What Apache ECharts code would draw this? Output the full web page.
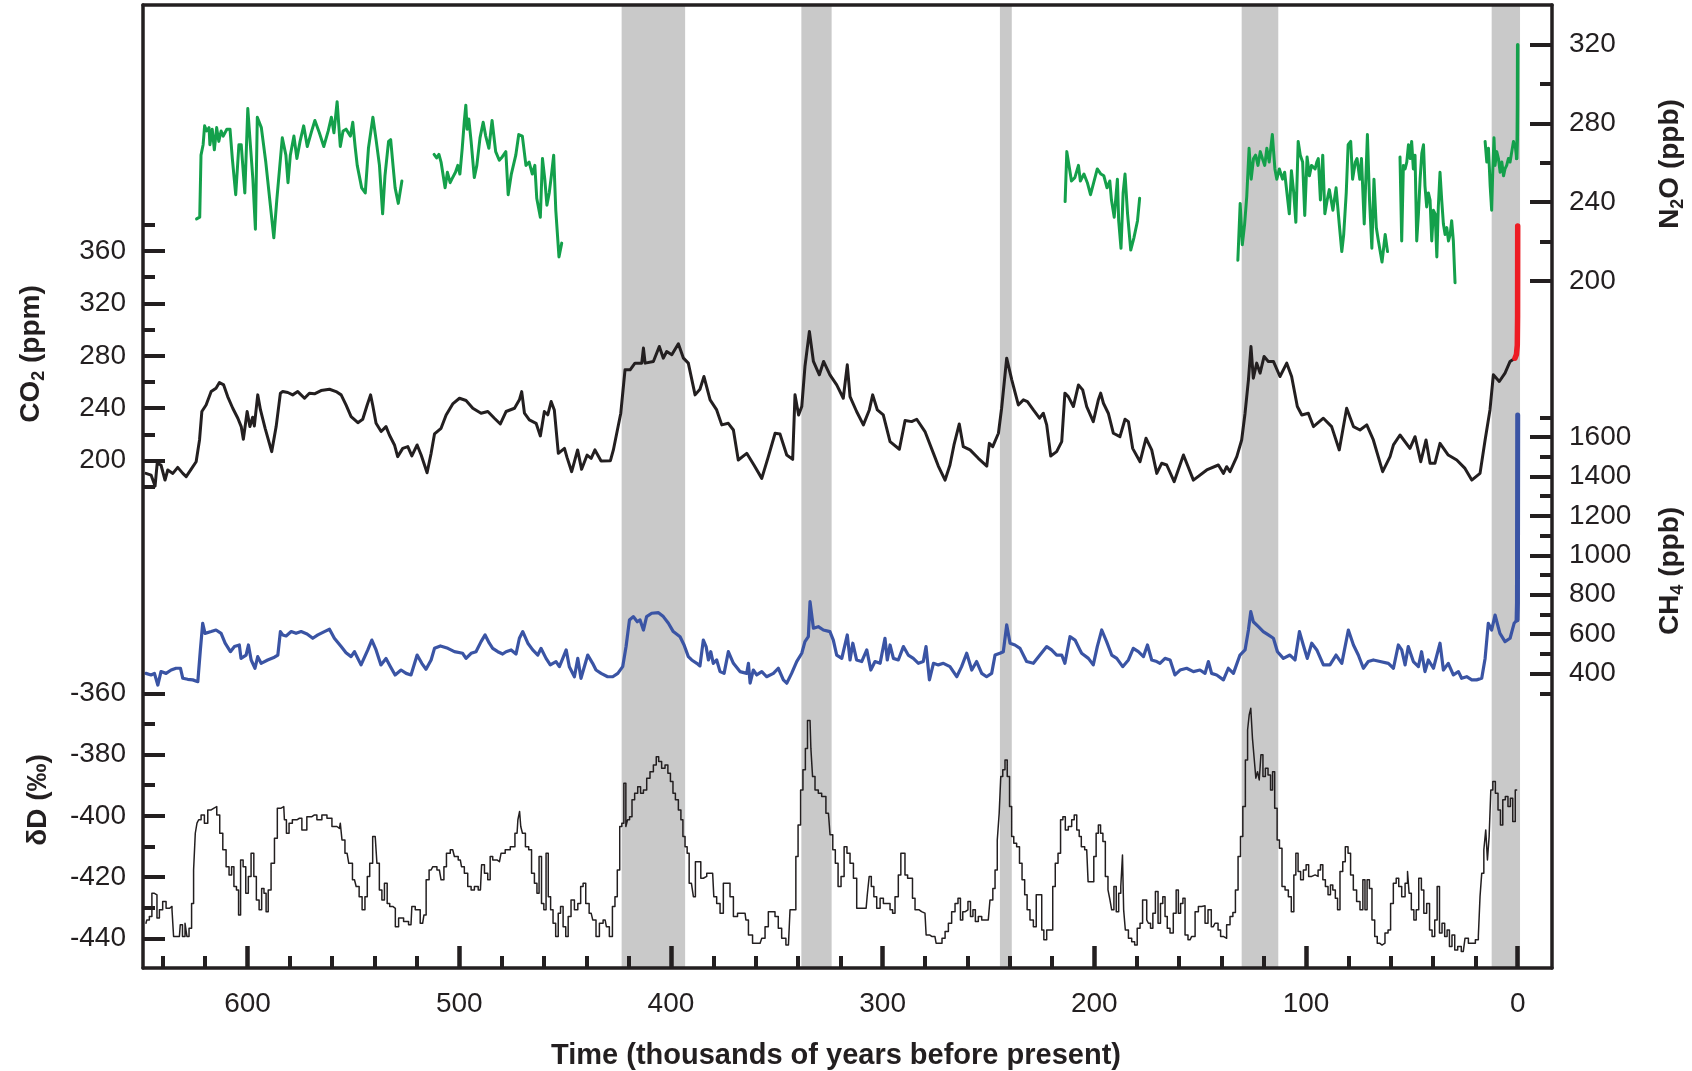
<!DOCTYPE html>
<html><head><meta charset="utf-8">
<script src="https://cdn.jsdelivr.net/npm/echarts@6/dist/echarts.min.js"></script>
<style>html,body{margin:0;padding:0;background:#fff}#c{width:1692px;height:1071px}</style>
</head><body><div id="c"></div>
<script>
// ---- time axis (thousands of years before present) ----
const timeMajorTicks = [0,100,200,300,400,500,600];
const timeMinorTicks = [20,40,60,80,120,140,160,180,220,240,260,280,320,340,360,380,420,440,460,480,520,540,560,580,620,640];
// ---- interglacial bands [start, end] ----
const bands = [[423.3,393.3],[338.4,324.1],[244.6,239],[130.4,113.1],[12.3,-1.1]];
// ---- axis ticks ----
const co2MajorTicks = [200,240,280,320,360];
const co2MinorTicks = [180,220,260,300,340,380];
const dDMajorTicks = [-440,-420,-400,-380,-360];
const dDMinorTicks = [-430,-410,-390,-370];
const n2oMajorTicks = [200,240,280,320];
const n2oMinorTicks = [220,260,300];
const ch4MajorTicks = [400,600,800,1000,1200,1400,1600];
const ch4MinorTicks = [300,500,700,900,1100,1300,1500,1700];

// ---- CO2 (ppm) ----
const co2 = [[648,190.3],[645.6,189],[643.7,180.6],[642.7,198],[640.9,196.7],[639,185.2],[637.7,192.9],[635.3,190.3],[633,194.9],[630.6,190.3],[629,187.8],[626.7,193.4],[624.3,199.2],[622.7,215.8],[621.6,237.5],[619.6,242.5],[617.2,252.7],[614.9,255.3],[613.3,259.6],[611.3,257.8],[609.4,248.9],[607,240],[604.6,232.4],[603,226],[602,216.3],[600.2,237.5],[598.9,226],[597.6,233.1],[596.8,226.5],[595.2,250.2],[593.9,238.7],[591.7,224.7],[588.6,206.9],[586.5,226],[584.5,251.5],[583.4,252.7],[581,252],[578.7,250.2],[576.3,252.7],[573.1,247.6],[570.8,251.5],[568.4,251],[565.3,253.5],[561.3,254.5],[558.2,252.7],[555.8,250.2],[553.5,242.5],[551.1,233.6],[547.9,229],[545.6,231.6],[543.5,242.5],[541.9,250.2],[540.9,242.5],[539.3,228.5],[536.9,222.2],[534.6,226],[533,219.6],[530.6,212],[529.1,203.1],[526.7,209.4],[524.3,210.7],[522.4,203.6],[519.9,212],[518,204.3],[515.2,190.8],[513.3,205.6],[511.7,220.4],[508.6,224.7],[506.2,234.9],[503.1,243.3],[499.9,247.6],[496.8,245.9],[493.6,240],[489.7,236.2],[486.5,237.5],[483.4,232.4],[480.6,228],[477.9,237.5],[473.9,240],[471.6,246.4],[470.5,252.7],[469.2,236.2],[466.9,231.1],[463.7,228.5],[461.7,218.9],[459.8,237.5],[458.2,235],[456.6,245.1],[455.1,238.7],[453.2,205.6],[450.3,209.4],[449.1,202.5],[446.9,191.6],[445.6,199.2],[444.1,208.2],[442.2,193.4],[439.6,204.3],[437.7,201.8],[435.9,208.2],[433,199.7],[428.6,200],[427.2,208.2],[425.3,223.4],[423.7,236.2],[421.7,269.3],[419.3,269.3],[417,274.4],[413.8,274.4],[413,285.9],[412.2,274.4],[408.3,275.7],[405.5,287.1],[403.6,278.2],[402,283.3],[399.6,280.8],[396.5,289.2],[394.1,278.2],[391.8,274.4],[388.6,250.2],[386.3,254.5],[384.4,264.2],[381.5,246.4],[378.4,238.7],[376,227.3],[372.9,228.5],[370.5,223.4],[368.2,200.5],[364.2,205.6],[360.8,196.7],[357.1,186.5],[354,203.1],[350.8,220.9],[348.5,220.4],[345.3,204.3],[342.5,201],[341.4,250.2],[339.7,234.9],[338.2,241.3],[336.7,271.8],[334.6,298.6],[332.7,275.7],[329.9,265.5],[327.9,275.7],[324.9,265.5],[321.7,257.8],[318.6,247.6],[316.7,273.1],[315.4,248.9],[312.3,237.5],[309.1,227.3],[306.3,238.7],[304.7,250.2],[302.5,238.7],[299.7,234.9],[296.5,214.5],[292.1,208.7],[289.4,230.6],[286.3,229.8],[283.9,231.6],[280,222.2],[276,205.6],[273.7,195.9],[270.5,185.2],[268.2,196.7],[266.3,212],[263.8,228],[261.9,210.7],[258.7,208.2],[254.8,201.8],[250.8,195.9],[249.6,213.2],[248,210.7],[245.3,220.9],[243.8,240],[241.4,278.2],[239,261.7],[235.9,242.5],[233.5,246.4],[231.6,245.1],[228.8,238.7],[225.9,232.4],[224.1,236.2],[222.5,227.3],[220.6,203.6],[217.8,206.9],[215.4,214.5],[213.9,251.5],[212.3,248.9],[209.9,241.3],[207.5,257.8],[205.5,254],[203.6,241.3],[200.5,229.8],[198.1,246.4],[197,251.5],[195.7,243.8],[193.4,236.2],[191,220.9],[187.9,218.3],[185.5,231.6],[183.9,229.8],[181.9,209.4],[178.4,199.2],[175.6,217.1],[172.9,208.2],[170.5,190.3],[168.2,198],[165.8,196.7],[162.3,184],[157.9,204.3],[153.2,185.2],[146.9,192.9],[141.4,196.7],[139,190.3],[137.5,195.4],[135.9,191.6],[132.7,203.1],[130.4,215.8],[128.8,236.2],[127.2,261.7],[126,287.1],[124.9,262.9],[123.3,274.4],[121.7,266.8],[119.8,279.5],[117.8,275.7],[115.4,275.7],[112.3,264.2],[109.1,274.4],[106.8,264.2],[104.1,241.3],[102,234.9],[98.9,236.2],[96.5,226],[91.8,232.4],[87.9,226],[84.3,208.2],[80.8,240],[77.6,226],[74.5,223.4],[71.3,227.3],[68.2,215.8],[63.8,191.6],[60.3,203.1],[58.7,212],[55.6,219.6],[50.9,209.4],[48.5,218.3],[45.8,199.2],[43.3,215.8],[41.4,198],[39.1,198],[36.7,213.2],[32.8,204.3],[28.8,200.5],[24.9,194.1],[21.7,185.2],[17.8,190.3],[15.4,215.8],[13.1,238.7],[11.5,265.5],[8.7,260.4],[6,266.8],[3.6,275.7],[1.3,278.2]];
const co2Modern = [[1.3,278.2],[0.6,281],[0.2,288],[0.06,310],[0,379]];

// ---- CH4 (ppb) ----
const ch4 = [[648,401],[645.6,393],[644,401],[642.4,342],[640.9,410],[638.5,401],[636.1,418],[633.8,427],[631.7,427],[630.6,376],[628.3,371],[625.9,368],[623.5,359],[622.3,520],[621.2,655],[620.1,604],[617.2,613],[614.9,621],[612.5,604],[610.6,554],[608.1,511],[606.2,537],[603.9,545],[603.1,477],[600.7,494],[599.6,545],[598.3,469],[596.5,427],[595.2,486],[593.6,452],[590.5,469],[587.3,483],[585.7,494],[584.5,613],[583.4,596],[581.8,591],[579.4,613],[577.1,604],[574.7,613],[571.9,601],[569.2,579],[566.8,596],[563.7,613],[561.3,625],[559,579],[555.8,537],[553.5,506],[551.1,486],[549.5,511],[546.4,444],[543.2,520],[541.3,570],[539.3,520],[537,444],[534.6,477],[532.5,435],[530.3,393],[527.5,418],[525.1,401],[522.8,393],[519.9,494],[517.7,452],[515.7,422],[513.3,469],[511.7,528],[508.9,540],[505.4,528],[502.3,511],[498.4,503],[496.8,477],[494.4,503],[492.1,511],[489.7,562],[487.8,596],[485.8,554],[484.2,528],[481.8,511],[479.5,499],[477.9,511],[475.5,520],[473.2,499],[471.6,579],[470,613],[467.6,554],[465.3,520],[462.9,494],[461.4,528],[459,477],[457,444],[454.3,461],[452.7,435],[451.1,477],[449.5,520],[448,435],[445.6,384],[444,477],[442.5,376],[439.3,494],[437,452],[435.4,418],[433,401],[429.9,384],[427.5,384],[425.1,401],[424.4,393],[422.8,435],[421.2,537],[419.6,672],[417.8,689],[415.9,663],[414.6,672],[413,621],[411.5,689],[409.1,706],[405.9,709],[403.6,689],[401.2,655],[398.9,613],[395.7,587],[393.8,545],[391.8,486],[390.2,469],[387.8,452],[386.3,439],[384.7,570],[383.4,537],[382.3,469],[381.2,511],[380,452],[378.4,469],[376.8,410],[374.9,401],[372.9,511],[370.5,452],[367.4,410],[364.2,401],[363.4,452],[362.6,351],[361.1,418],[359.5,393],[357.1,410],[354.8,384],[351.6,401],[349.3,427],[346.9,368],[345.3,351],[343,401],[340.6,461],[338.2,503],[336.7,562],[335.1,587],[334.3,765],[332.7,630],[330.4,638],[328,621],[324.9,613],[323.3,570],[321.7,494],[319.3,477],[316.7,596],[315.4,469],[314.1,554],[312.3,469],[309.9,461],[307.5,520],[305.6,418],[303.6,461],[301.2,452],[298.9,579],[297.8,469],[296.5,545],[294.9,477],[292.6,469],[290.2,537],[287.9,494],[285.5,477],[283.1,452],[280.8,461],[279.5,537],[277.9,368],[276,452],[273.7,444],[271.3,452],[268.2,435],[265,384],[262.7,435],[260.3,503],[257.9,418],[255.6,461],[253.2,401],[250.9,384],[248.5,401],[246.9,494],[244.6,503],[243,511],[241.4,647],[239.8,554],[237.5,545],[235.1,528],[232,461],[228.8,452],[225.7,494],[222.5,537],[220.2,520],[217.8,494],[215.4,494],[213.9,452],[211.5,587],[209.1,570],[206.8,520],[206,503],[202.8,477],[200.5,444],[198.6,537],[196.5,621],[194.2,562],[191.8,494],[189.4,477],[186.6,435],[183.9,469],[181.6,528],[179.2,511],[176.8,486],[174.9,545],[172.9,469],[170.5,461],[169,452],[166.6,477],[164.2,469],[161.9,393],[159.5,418],[156.4,427],[153.2,410],[150.1,418],[147.7,401],[146.1,461],[144.6,401],[142.2,393],[139,368],[136.7,427],[134.3,401],[131.2,494],[128.8,520],[127.2,621],[126.1,714],[124.9,663],[122.5,638],[120.2,613],[117.8,596],[115.4,579],[113.5,511],[110.7,477],[107.6,494],[105.2,469],[103.1,613],[101.3,545],[99.4,477],[97.3,554],[94.9,520],[91.8,444],[88.7,444],[85.8,494],[83.1,452],[80,621],[77.6,545],[75.3,494],[72.9,427],[70.6,461],[68.2,469],[65,461],[61.1,452],[58.7,427],[56.4,545],[54.8,520],[53.2,444],[51.7,537],[49.3,461],[46.9,435],[45.4,511],[43.8,410],[42.2,469],[39.8,427],[36.7,554],[35.1,418],[32.8,452],[30.4,393],[28,410],[26.5,376],[24.1,384],[21.7,368],[19.4,368],[17,376],[15.4,477],[13.9,655],[12.3,621],[10.7,697],[8.4,604],[6,562],[3.6,579],[1.7,655],[0.3,672]];
const ch4Modern = [[0.3,672],[0.12,760],[0,1712]];

// ---- N2O (ppb), null = gap between record segments ----
const n2o = [[624.1,231.5],[622.6,232.4],[622,263.9],[621,269.2],[620.3,278.8],[619.3,276.2],[618.2,277.9],[617.8,269.2],[616.7,277.1],[615.7,266.6],[614.6,277.9],[613.6,270.9],[612.5,276.2],[611.5,273.6],[609.8,277.1],[608.3,277.1],[607.2,262.2],[605.6,243.8],[604.1,269.2],[603,269.2],[601.3,244.7],[599.9,287.6],[598.8,270.9],[597.5,251.7],[596.3,226.3],[595.4,283.2],[593.5,277.9],[591.4,260.4],[587.6,221.9],[586.2,241.1],[583.6,272.7],[581.9,263.9],[580.9,249.9],[579.8,263.9],[578.1,273.6],[576.7,262.2],[575.2,270.9],[573.5,278.8],[571.8,268.3],[569.7,276.2],[568.2,281.5],[566.1,275.3],[564,268.3],[561.9,276.2],[560.4,283.2],[559.2,275.3],[557.7,291.1],[556.2,268.3],[554.9,276.2],[553.5,277.1],[551.4,273.6],[550.3,280.6],[549.2,268.3],[548.2,258.7],[546.1,247.3],[544.4,244.7],[542.9,267.4],[540.8,283.2],[539.3,271.8],[537.7,258.7],[536.2,234.1],[535.1,253.4],[533.4,270.9],[532.4,271.8],[531.3,258.7],[530.3,247.3],[528.8,239.4],[527.1,250.8],
[520,null],
[511.9,264.3],[510.7,262.5],[509.6,264.3],[508.6,260.4],[507.7,261.3],[506.7,247.3],[505.6,255.2],[504.3,249.9],[503.5,251.7],[501.8,255.2],[500.7,258.7],[499.7,254.3],[498.6,267.4],[497.6,281.5],[496.9,289.3],[496.3,277.1],[495.5,282.3],[494.4,270.9],[492.9,252.5],[491.7,258.7],[490.2,272.7],[488.7,280.6],[487.5,273.6],[486,267.4],[484.5,281.5],[482.8,265.7],[481.1,261.3],[479.7,263],[478,265.7],[476.9,243.8],[475.4,254.3],[473.3,263.9],[471.9,274.4],[470.2,273.6],[468.5,258.7],[467,260.4],[465.5,254.3],[464.3,258.7],[463.4,242],[461.7,232.4],[460.7,262.2],[459.6,251.7],[458.6,238.5],[457.5,244.7],[456.5,253.4],[455.4,263.9],[454.4,235.9],[452.9,212.2],[451.6,219.2],
[300,null],
[213.8,240.3],[213,265.7],[211.7,256.9],[210.8,250.8],[209.2,252.5],[207.5,258.7],[206.6,250.8],[204.9,254.3],[203.3,249.9],[201.8,243.8],[200.3,249.9],[198.6,256.9],[196.9,254.3],[195.5,253.4],[194,247.3],[192.7,250.8],[191.9,241.1],[190.6,232.4],[189.1,251.7],[188.5,230.6],[187.4,216.6],[186.4,244.7],[185.5,254.3],[184.3,234.1],[182.8,215.7],[181.3,221.9],[179.6,230.6],[178.6,242],
[150,null],
[132.2,210.5],[131.1,239.4],[130.1,218.4],[129,228.9],[128,242.9],[126.9,267.4],[125.9,251.7],[124.8,262.2],[123.8,263.9],[122.7,258.7],[121.6,265.7],[120.6,262.2],[119.5,258.7],[118.5,267.4],[117.4,260.4],[115.9,274.4],[114.7,256.9],[113.8,251.7],[112.6,256.9],[111.1,251.7],[110.1,255.2],[107.9,234.1],[106.9,256],[105.8,244.7],[104.8,229.8],[103.7,270.9],[102.7,263.9],[101.6,260.4],[100.6,233.3],[99.5,263],[98.4,253.4],[97.4,258.7],[95.7,256.9],[94.9,260.4],[94.2,262.2],[93.2,241.1],[92.1,263.9],[91.1,234.1],[90,241.1],[89,246.4],[87.3,235.9],[85.8,247.3],[84.3,228.9],[83.1,214.9],[82.2,223.6],[81,244.7],[80.1,269.2],[78.9,270.9],[78,251.7],[76.7,260.4],[75.9,262.2],[74.6,251.7],[73.8,262.2],[72.5,228.9],[71,274.4],[70,241.1],[68.9,216.6],[67.9,251.7],[66.8,227.1],[65.8,220.3],[64.1,209.6],[62.6,223.6],[61.5,214.9],
[58,null],
[55.6,263],[54.8,220.3],[54,258.7],[53.2,256.9],[52.4,260.4],[51.6,269.2],[50.8,262.2],[50.1,270.9],[49.3,256.9],[48.5,263.9],[47.7,220.3],[46.9,234.1],[46.1,251.7],[45.3,264.8],[44.5,269.2],[43.8,248.2],[43,237.6],[42.2,244.7],[41.4,241.1],[40.6,220.3],[39.8,235.9],[39,234.1],[38.2,212.2],[37.5,237.6],[36.7,255.2],[35.9,241.1],[35.1,228.9],[34.3,223.6],[33.5,227.1],[32.7,220.3],[31.9,223.6],[31.2,230.6],[30.4,220.3],[29.6,199.1],
[22,null],
[15.4,270.9],[14.6,260.4],[13.8,267.4],[13,248.2],[12.3,235.9],[11.8,255.2],[11.2,272.7],[10.7,258.7],[9.9,265.7],[9.1,262.2],[8.3,255.2],[7.5,260.4],[6.7,253.4],[6,256.9],[5.2,258.7],[4.4,262.2],[3.6,260.4],[2.8,265.7],[2,270.9],[1.2,269.2],[0.5,262.2]];
const n2oModern = [[0.5,262.2],[0.2,272.7],[0.08,290],[0,320]];

// ---- deuterium deltaD (per mil) ----
const dD = [[648,-435.1],[647.2,-434],[645.6,-432.9],[644.8,-425.3],[643.2,-425.8],[642.4,-433.4],[640.9,-430.7],[639.3,-428],[637.7,-430.2],[636.1,-429.6],[635.3,-430.7],[634.6,-439.4],[632.2,-439.4],[631.4,-435.6],[630.1,-439.4],[629,-435.1],[628.3,-439.4],[627,-436.7],[625.9,-428.6],[625.1,-417.7],[624.3,-405.7],[623.5,-402.4],[622.7,-401.3],[621.2,-399.7],[619.6,-402.4],[618,-398.1],[616.4,-397.5],[615.3,-397],[613.8,-399.7],[612.5,-405.7],[610.9,-411.1],[609.4,-416.6],[608.1,-419.3],[607,-416.6],[605.9,-423.1],[604.6,-424.2],[603.9,-432.4],[602.7,-414.4],[601.5,-416.6],[600.2,-425.3],[599.1,-419.8],[597.6,-412.2],[596.5,-419.8],[595.2,-427.5],[593.9,-430.7],[592.8,-423.7],[591.7,-425.3],[590.8,-431.3],[589.7,-424.2],[588.1,-415.5],[586.5,-407.3],[585.4,-397.5],[582.9,-397],[582.3,-401.3],[581,-405.7],[579.8,-402.4],[577.9,-401.3],[575.5,-400.8],[573.2,-404.6],[570.8,-400.3],[568.4,-399.7],[566.1,-401.3],[563.7,-399.7],[561.3,-400.8],[559,-403.5],[556.6,-404.1],[555.8,-402.4],[555,-407.9],[553,-412.2],[551.4,-415.5],[549.5,-420.9],[547.9,-423.1],[546.7,-426.4],[545.1,-430.7],[544,-426.4],[542.9,-419.8],[541.7,-415.5],[540.1,-406.8],[539.3,-407.3],[538.5,-415.5],[537,-424.2],[536.1,-427.5],[534.6,-422],[533.5,-428.6],[532.2,-429.6],[530.6,-430.2],[529.8,-436.2],[527.5,-433.4],[525.1,-434.5],[522.8,-435.6],[522,-429.6],[519.6,-430.7],[517.3,-435.1],[516.1,-432.4],[515.2,-420.9],[513.3,-417.7],[511.7,-416.6],[509.4,-417.7],[507.8,-420.9],[506.7,-416.6],[505.4,-412.2],[503.1,-411.1],[501.5,-413.3],[499.5,-414.4],[498.4,-416.6],[496.8,-418.8],[495.2,-423.1],[493.6,-424.2],[492.1,-423.1],[490,-424.2],[488.9,-416],[487.3,-418.8],[485.8,-420.9],[485,-413.3],[483.4,-414.4],[481,-415],[479.5,-412.2],[477.1,-411.1],[474.7,-410.1],[472.7,-405.7],[471.9,-401.3],[471.1,-398.6],[470.8,-403.5],[469.5,-405.7],[468,-410.1],[466.4,-411.1],[465.3,-418.8],[463.7,-422],[462.9,-425.3],[461.7,-413.3],[460.6,-428.6],[459.5,-430.7],[458.5,-412.2],[457.4,-426.4],[456.3,-430.7],[455.1,-435.1],[453.8,-439.4],[452.7,-431.8],[451.6,-429.6],[450.3,-436.2],[449.1,-439.4],[448,-432.9],[446.4,-427.5],[444.8,-430.7],[443.2,-428.6],[442.1,-423.1],[440.9,-422],[439.6,-428.6],[437.7,-431.8],[436.2,-434],[434.6,-439.4],[433,-435.1],[431.1,-434],[429.9,-436.2],[428.3,-439.4],[427,-429.6],[425.9,-426.4],[424.8,-417.7],[423.6,-403.5],[422.8,-402.4],[421.7,-389.4],[420.9,-403.5],[420.1,-401.3],[419,-400.3],[417.8,-394.8],[416.5,-392.6],[414.9,-390.5],[413.8,-392.6],[412.2,-391.6],[410.7,-387.7],[409.1,-385.6],[407.5,-383.4],[406.4,-380.7],[405.2,-382.3],[403.6,-384.5],[402,-383.4],[400.9,-386.1],[399.6,-388.8],[398.5,-392.6],[397.3,-394.8],[395.7,-398.1],[394.9,-401.3],[393.8,-406.8],[392.9,-410.1],[391.8,-412.2],[391,-422],[389.7,-422],[389.1,-426.4],[387.8,-415],[386.3,-415],[385.5,-420.4],[383.9,-419.8],[382.3,-418.8],[380.3,-418.8],[379.2,-426.4],[377.6,-428.6],[376,-431.8],[374.5,-422],[372.9,-422],[371.3,-426.4],[369.7,-432.9],[367.4,-431.8],[365,-431.8],[364.2,-434],[362.6,-438.9],[360.3,-441.6],[357.9,-441.6],[356.3,-440],[354.8,-436.2],[353.2,-431.3],[351.6,-431.3],[350.1,-432.9],[348.5,-436.7],[346.9,-440],[344.5,-442.2],[343,-430.7],[341.4,-430.7],[340.6,-413.3],[339.3,-403],[338.2,-391.6],[337.1,-385],[335.9,-378],[335.1,-368.9],[334.3,-368.9],[333.5,-378],[332.7,-387.2],[331.2,-391.6],[329.6,-392.6],[328,-393.7],[325.6,-399.2],[324.1,-406.2],[323,-411.1],[321.7,-415.5],[320.4,-423.1],[318.9,-419.8],[317.5,-410.1],[316.2,-412.2],[314.6,-415.5],[313,-420.4],[311.5,-430.2],[309.9,-430.2],[307.8,-430.2],[306.7,-425.8],[306,-419.8],[304.7,-423.1],[303.6,-426.4],[302,-430.2],[300.4,-426.9],[298.9,-428.6],[297.3,-428.6],[295.7,-430.7],[294.9,-431.8],[293.4,-426.4],[291.8,-419.3],[291,-412.2],[289.9,-412.2],[289,-419.3],[287.4,-420.4],[286.3,-420.4],[285.5,-426.9],[283.9,-430.7],[281.6,-431.3],[280,-431.8],[278.9,-438.9],[276.8,-439.4],[275.3,-439.4],[274.2,-441.6],[272.6,-441.6],[271.3,-440],[269.7,-437.8],[268.2,-435.1],[266.6,-431.3],[265,-428.6],[263.8,-426.9],[262.7,-434],[261.6,-431.3],[260.3,-430.7],[259.1,-428],[257.9,-432.9],[256.8,-430.7],[255.6,-434.5],[254,-432.9],[252.4,-434],[250.1,-434],[248.5,-427.5],[247.4,-423.7],[246.4,-417.7],[245.3,-407.9],[244.6,-399.2],[243.8,-387.2],[242.7,-385],[241.7,-381.8],[240.6,-387.2],[239.5,-397],[238.6,-406.8],[237.5,-409],[235.9,-410.1],[234.8,-415.5],[233.5,-420.9],[232.3,-425.8],[231.2,-430.7],[229.6,-434],[228,-436.2],[226.9,-425.8],[225.3,-425.8],[224.4,-437.3],[223.3,-440.5],[221.7,-437.3],[220.2,-437.3],[219.1,-423.1],[217.8,-415.5],[216.5,-412.2],[215.4,-401.3],[214.3,-400.3],[213.1,-404.6],[211.5,-403.5],[209.9,-401.3],[209.1,-399.7],[207.5,-404.6],[206.8,-406.8],[205.5,-410.1],[203.6,-411.1],[202.3,-421.5],[200.8,-421.5],[199.7,-413.3],[198.6,-405.7],[197.6,-403],[196.5,-405.7],[195.4,-408.4],[194.2,-419.8],[192.9,-424.2],[192.3,-427.5],[191.3,-430.7],[190.2,-423.1],[189.1,-431.3],[187.9,-425.3],[187.1,-423.1],[186.3,-412.8],[186,-430.7],[184.7,-437.3],[183.1,-440],[181.6,-441.1],[180.3,-442.2],[179.2,-436.7],[177.6,-435.1],[176.8,-427.5],[175.6,-427.5],[174.9,-434],[174,-435.1],[172.9,-436.7],[171.8,-431.8],[170.5,-424.7],[169.3,-435.1],[168.2,-428.6],[167.1,-426.4],[166.1,-432.9],[165,-436.7],[163.5,-438.3],[161.9,-431.8],[160.8,-424.2],[159.8,-431.8],[158.7,-428.6],[157.6,-426.9],[156.7,-438.9],[154.8,-440.5],[153.2,-439.4],[151.6,-431.3],[150.1,-429.6],[148.5,-429.4],[146.9,-435.1],[145.7,-430.7],[143.8,-436.2],[142.2,-435.1],[140.9,-437.3],[139.8,-439.4],[138.3,-440],[136.7,-435.6],[135.1,-432.9],[134,-431.6],[132.7,-424.2],[131.5,-413.3],[130.4,-406.8],[129.3,-397],[128,-381.8],[127.2,-372],[126.5,-367.1],[125.7,-364.9],[124.9,-374.7],[124.1,-381.2],[123.3,-387.7],[122.5,-385.6],[121.7,-388.3],[120.9,-380.1],[119.8,-387.2],[118.6,-384.5],[117.3,-386.7],[116.2,-391.6],[115.4,-385.6],[114.2,-397.5],[113.1,-407.9],[112,-410.6],[110.7,-423.1],[109.1,-424.2],[107.6,-426.4],[106.3,-431.3],[105.2,-419.3],[104.4,-412.2],[103.1,-418.2],[102,-420.9],[100.5,-417.7],[99.4,-416],[98.1,-419.8],[96.5,-419.3],[94.9,-419.8],[93.7,-417.7],[92.6,-416],[91.5,-420.9],[90.2,-423.1],[89,-425.8],[87.9,-422.6],[86.8,-424.2],[85.5,-426.9],[84.7,-430.7],[83.2,-418.2],[82.1,-415],[80.8,-410.1],[79.5,-412.2],[78.4,-419.3],[76.9,-424.2],[75.3,-428],[73.7,-430.7],[72.6,-420.9],[71.7,-430.7],[70.6,-420.9],[69.5,-423.7],[68.2,-434],[66.9,-439.4],[65.8,-441.6],[64.7,-442.2],[63.5,-441.6],[61.9,-438.3],[60.6,-437.3],[59.5,-428.6],[58,-422],[56.8,-420.4],[55.6,-423.1],[54,-426.4],[52.4,-422],[51.7,-418.2],[50.9,-425.3],[49.6,-430.7],[48.5,-434],[47.4,-430.7],[46.1,-420.4],[44.9,-424.2],[43.8,-431.8],[42.2,-428.6],[41.1,-437.3],[39.8,-439.4],[38.6,-434],[37.5,-423.1],[36.4,-438.3],[35.1,-435.1],[33.9,-439.4],[32.8,-437.3],[31.7,-442.7],[30.4,-438.9],[29.1,-443.8],[27.6,-442.7],[25.7,-444.3],[24.1,-440],[22.5,-441.6],[20.9,-441.6],[19.1,-440.5],[18.1,-439.4],[17.5,-426.4],[16.5,-418.8],[15.5,-411.1],[14.7,-404.6],[13.9,-414.4],[13.1,-406.8],[12.3,-391.6],[11.2,-388.8],[9.9,-392.6],[8.7,-398.1],[7.6,-403],[6.5,-394.8],[5.2,-393.7],[4,-397],[2.9,-394.3],[1.8,-401.9],[0.5,-391.6]];

const INK = '#231f20';
const FONT = '"Liberation Sans", Arial, Helvetica, sans-serif';
const chart = echarts.init(document.getElementById('c'), null, {renderer: 'canvas'});

function yAx(position, min, max, ticks, len, labels, margin, showLine) {
  return {
    type: 'value', position, min, max, offset: 0, z: 10,
    axisLine: {show: !!showLine, onZero: false, lineStyle: {color: INK, width: 3.5}},
    splitLine: {show: false},
    axisTick: {show: true, inside: true, length: len, customValues: ticks, lineStyle: {color: INK, width: 4}},
    axisLabel: labels ? {show: true, customValues: labels, margin, color: INK, fontSize: 28, fontFamily: FONT, formatter: v => String(v)} : {show: false}
  };
}
const XMIN = -16.2, XMAX = 649.4;
function xAx(position, ticks, len, labels, showLine, width) {
  return {
    type: 'value', position, min: XMIN, max: XMAX, inverse: true, z: 10,
    axisLine: {show: showLine, onZero: false, lineStyle: {color: INK, width: 3.5}},
    splitLine: {show: false},
    axisTick: ticks ? {show: true, inside: true, length: len, customValues: ticks, lineStyle: {color: INK, width: width}} : {show: false},
    axisLabel: labels ? {show: true, customValues: labels, margin: 22, color: INK, fontSize: 28, fontFamily: FONT, formatter: v => String(v)} : {show: false}
  };
}

function lineSeries(name, data, yIdx, color, width, extra) {
  return Object.assign({
    name, type: 'line', data, xAxisIndex: 0, yAxisIndex: yIdx, showSymbol: false, symbol: 'none',
    connectNulls: false, z: 3, animation: false,
    lineStyle: {color, width, join: 'round', cap: 'round'}
  }, extra || {});
}

const rich = (main, sub, rest) => ({
  text: '{a|' + main + '}{s|' + sub + '}{a|' + rest + '}',
  rich: {
    a: {fontSize: 28, fontWeight: 'bold', fontFamily: FONT, fill: INK, lineHeight: 34, verticalAlign: 'middle'},
    s: {fontSize: 18, fontWeight: 'bold', fontFamily: FONT, fill: INK, lineHeight: 18, verticalAlign: 'bottom'}
  },
  align: 'center', verticalAlign: 'middle'
});

chart.setOption({
  animation: false,
  backgroundColor: '#ffffff',
  grid: {left: 143, right: 140, top: 5, bottom: 103, containLabel: false},
  xAxis: [
    xAx('bottom', timeMajorTicks, 22, timeMajorTicks, true, 4.5),
    xAx('bottom', timeMinorTicks, 12, null, false, 4),
    xAx('top', null, 0, null, true, 0)
  ],
  yAxis: [
    yAx('left', -187.0, 547.6, co2MajorTicks, 22, co2MajorTicks, 17, true),   // 0 CO2
    yAx('left', -187.0, 547.6, co2MinorTicks, 12, null, 17, false),          // 1
    yAx('left', -449.7, -135.25, dDMajorTicks, 22, dDMajorTicks, 17, false), // 2 dD
    yAx('left', -449.7, -135.25, dDMinorTicks, 12, null, 17, false),         // 3
    yAx('right', -149.1, 340.2, n2oMajorTicks, 22, n2oMajorTicks, 17, true), // 4 N2O
    yAx('right', -149.1, 340.2, n2oMinorTicks, 12, null, 17, false),         // 5
    yAx('right', -1093.5, 3791.4, ch4MajorTicks, 22, ch4MajorTicks, 17, false), // 6 CH4
    yAx('right', -1093.5, 3791.4, ch4MinorTicks, 12, null, 17, false)        // 7
  ],
  series: [
    {
      name: 'bands', type: 'custom', xAxisIndex: 0, yAxisIndex: 0, z: 1, silent: true, clip: false,
      data: bands,
      renderItem: function (params, api) {
        const a = api.coord([api.value(0), 0]);
        const b = api.coord([api.value(1), 0]);
        const cs = params.coordSys;
        return {type: 'rect', shape: {x: Math.min(a[0], b[0]), y: cs.y, width: Math.abs(b[0] - a[0]), height: cs.height},
                style: {fill: '#c9c9c9'}};
      }
    },
    lineSeries('N2O', n2o, 4, '#14a04b', 3),
    lineSeries('N2O modern', n2oModern, 4, '#14a04b', 3.5),
    lineSeries('CO2', co2, 0, INK, 3),
    lineSeries('CO2 modern', co2Modern, 0, '#ed1c24', 5.5, {z: 4}),
    lineSeries('CH4', ch4, 6, '#3a54a4', 3.2),
    lineSeries('CH4 modern', ch4Modern, 6, '#3a54a4', 5, {z: 4}),
    lineSeries('dD', dD, 2, INK, 1.5, {step: 'middle'})
  ],
  graphic: [
    {type: 'text', x: 31, y: 354, rotation: Math.PI / 2, style: rich('CO', '2', ' (ppm)')},
    {type: 'text', x: 38, y: 800, rotation: Math.PI / 2,
     style: {text: '\u03b4D (\u2030)', fontSize: 28, fontWeight: 'bold', fontFamily: FONT, fill: INK, align: 'center', verticalAlign: 'middle'}},
    {type: 'text', x: 1670, y: 164, rotation: Math.PI / 2, style: rich('N', '2', 'O (ppb)')},
    {type: 'text', x: 1670, y: 571, rotation: Math.PI / 2, style: rich('CH', '4', ' (ppb)')},
    {type: 'text', x: 836, y: 1056,
     style: {text: 'Time (thousands of years before present)', fontSize: 29, fontWeight: 'bold', fontFamily: FONT, fill: INK, align: 'center', verticalAlign: 'middle'}}
  ]
});
</script>
</body></html>
